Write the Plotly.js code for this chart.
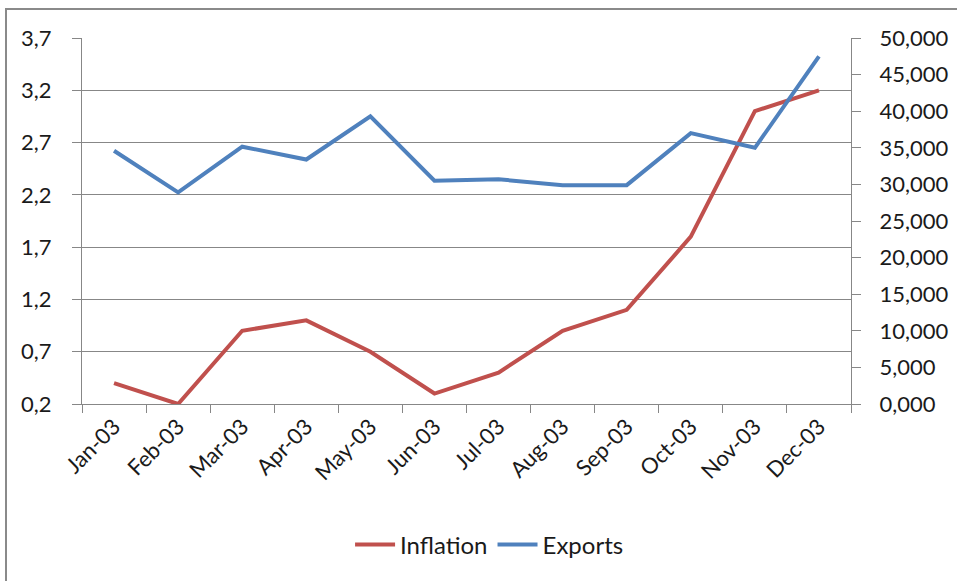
<!DOCTYPE html>
<html>
<head>
<meta charset="utf-8">
<script src="https://cdn.plot.ly/plotly-3.0.1.min.js"></script>
<style>
html,body{margin:0;padding:0;background:#fff;overflow:hidden;}
#frame{position:absolute;left:5px;top:8px;width:1000px;height:700px;border-left:2px solid #8a8a8a;border-top:2px solid #8a8a8a;pointer-events:none;z-index:5;}
#chart{position:absolute;left:0;top:0;width:957px;height:581px;}
</style>
</head>
<body>
<div id="chart"></div>
<div id="frame"></div>
<script>
var months = ["Jan-03","Feb-03","Mar-03","Apr-03","May-03","Jun-03","Jul-03","Aug-03","Sep-03","Oct-03","Nov-03","Dec-03"];
var inflation = [0.4, 0.2, 0.9, 1.0, 0.7, 0.3, 0.5, 0.9, 1.1, 1.8, 3.0, 3.2];
var exports = [34.6, 28.9, 35.15, 33.4, 39.3, 30.5, 30.7, 29.9, 29.9, 37.0, 35.0, 47.5];

var font = {family: "Lato, 'Open Sans', sans-serif", size: 22, color: "#1a1a1a"};
var legFont = {family: "Lato, 'Open Sans', sans-serif", size: 24, color: "#1a1a1a"};
var grey = "#878787";

var traces = [
  {x: months, y: inflation, name: "Inflation", type: "scatter", mode: "lines",
   line: {color: "#C0504D", width: 4}, yaxis: "y"},
  {x: months, y: exports, name: "Exports", type: "scatter", mode: "lines",
   line: {color: "#4F81BD", width: 4}, yaxis: "y2"}
];

var layout = {
  width: 957, height: 581,
  margin: {l: 82, r: 106, t: 38, b: 177},
  paper_bgcolor: "#fff", plot_bgcolor: "#fff",
  separators: ",.",
  font: font,
  showlegend: true,
  legend: {orientation: "h", x: 0.53, xanchor: "center", y: -0.385, yanchor: "middle",
           font: legFont, itemwidth: 40},
  xaxis: {type: "category", range: [-0.5, 11.5], showline: true, linecolor: grey, linewidth: 1,
          ticks: "outside", tickson: "boundaries", ticklen: 8, tickcolor: grey,
          tickangle: -45, showgrid: false, tickfont: font, zeroline: false},
  yaxis: {range: [0.2, 3.7], tick0: 0.2, dtick: 0.5, tickformat: ".1f",
          showline: true, linecolor: grey, linewidth: 1, ticks: "outside", ticklen: 9, tickcolor: grey,
          showgrid: true, gridcolor: grey, gridwidth: 1, zeroline: false, tickfont: font,
          ticklabelstandoff: 16},
  yaxis2: {range: [0, 50], tick0: 0, dtick: 5, tickformat: ".3f", overlaying: "y", side: "right",
           showline: true, linecolor: grey, linewidth: 1, ticks: "outside", ticklen: 9, tickcolor: grey,
           showgrid: false, zeroline: false, tickfont: font, ticklabelstandoff: 14}
};

Plotly.newPlot("chart", traces, layout, {displayModeBar: false, staticPlot: true});
</script>
</body>
</html>
